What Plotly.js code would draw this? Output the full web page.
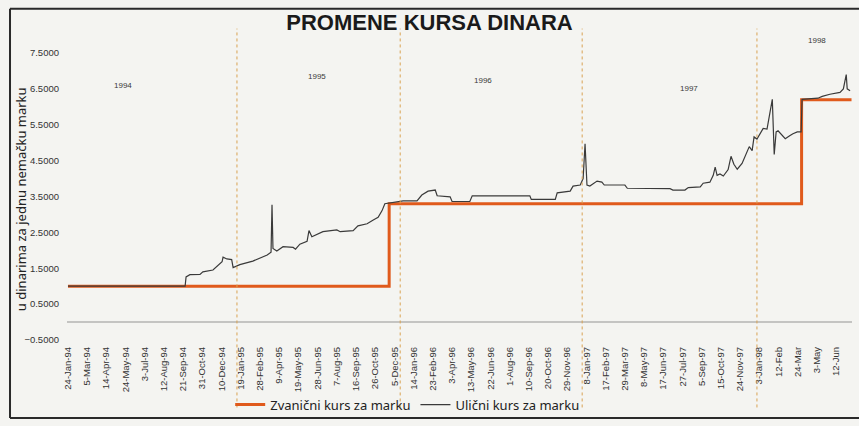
<!DOCTYPE html>
<html>
<head>
<meta charset="utf-8">
<script src="https://cdn.plot.ly/plotly-3.0.1.min.js"></script>
<style>
  html, body { margin: 0; padding: 0; background: #f4f4f1; }
  #chart { width: 859px; height: 426px; }
</style>
</head>
<body>
<div id="chart"></div>
<script>
// ---- Data ----
const officialDates = ["1994-01-24", "1995-11-24", "1998-04-01", "1998-07-14"];
const officialValues = [1.0, 3.3, 6.2, 6.2];

const streetDates = [
  "1994-01-24","1994-09-25","1994-09-27","1994-10-05","1994-10-26","1994-11-01","1994-11-22","1994-11-30",
  "1994-12-11","1994-12-13","1994-12-21","1994-12-31","1995-01-03","1995-01-17","1995-02-13","1995-03-15",
  "1995-03-23","1995-03-25","1995-03-27","1995-04-04","1995-04-17","1995-05-08","1995-05-13","1995-05-22",
  "1995-06-06","1995-06-10","1995-06-16","1995-07-09","1995-08-07","1995-08-14","1995-09-10","1995-09-20",
  "1995-10-09","1995-10-21","1995-11-01","1995-11-09","1995-11-15","1995-12-23","1996-01-21","1996-01-31",
  "1996-02-13","1996-02-28","1996-03-03","1996-03-30","1996-04-03","1996-05-10","1996-05-15","1996-09-12",
  "1996-09-15","1996-11-04","1996-11-08","1996-12-05","1996-12-11","1996-12-26","1997-01-01","1997-01-05",
  "1997-01-09","1997-01-15","1997-01-30","1997-02-09","1997-02-14","1997-03-29","1997-04-03","1997-07-01",
  "1997-07-07","1997-08-01","1997-08-08","1997-09-02","1997-09-08","1997-09-22","1997-09-29","1997-10-03",
  "1997-10-07","1997-10-13","1997-10-20","1997-10-30","1997-11-05","1997-11-11","1997-11-18","1997-11-28",
  "1997-12-09","1997-12-13","1997-12-19","1997-12-23","1997-12-29","1998-01-05","1998-01-11","1998-01-19",
  "1998-01-23","1998-01-30","1998-02-03","1998-02-07","1998-02-11","1998-02-20","1998-02-26","1998-03-08",
  "1998-03-14","1998-03-23","1998-03-31","1998-04-02","1998-05-05","1998-05-14","1998-05-30","1998-06-20",
  "1998-06-27","1998-07-03","1998-07-05","1998-07-11"
];
const streetValues = [
  1.00,1.00,1.26,1.32,1.33,1.40,1.45,1.54,
  1.68,1.81,1.76,1.74,1.52,1.60,1.70,1.87,
  1.95,3.27,2.05,1.98,2.10,2.08,2.03,2.17,
  2.25,2.55,2.38,2.52,2.57,2.52,2.55,2.68,
  2.74,2.84,2.92,3.10,3.30,3.38,3.38,3.54,
  3.65,3.68,3.52,3.49,3.36,3.36,3.52,3.52,
  3.42,3.42,3.60,3.65,3.79,3.82,4.00,4.97,
  3.82,3.79,3.93,3.90,3.82,3.82,3.73,3.72,
  3.68,3.68,3.75,3.77,3.87,3.90,4.09,4.32,
  4.09,4.13,4.07,4.25,4.62,4.40,4.26,4.42,
  4.78,4.89,4.78,5.16,5.10,5.28,5.40,5.38,
  5.71,6.21,4.67,5.30,5.33,5.19,5.11,5.20,
  5.25,5.30,5.30,6.21,6.24,6.29,6.35,6.40,
  6.50,6.90,6.50,6.45
];

const tickDates = [
  "1994-01-24","1994-03-05","1994-04-14","1994-05-24","1994-07-03","1994-08-12","1994-09-21","1994-10-31",
  "1994-12-10","1995-01-19","1995-02-28","1995-04-09","1995-05-19","1995-06-28","1995-08-07","1995-09-16",
  "1995-10-26","1995-12-05","1996-01-14","1996-02-23","1996-04-03","1996-05-13","1996-06-22","1996-08-01",
  "1996-09-10","1996-10-20","1996-11-29","1997-01-08","1997-02-17","1997-03-29","1997-05-08","1997-06-17",
  "1997-07-27","1997-09-05","1997-10-15","1997-11-24","1998-01-03","1998-02-12","1998-03-24","1998-05-03",
  "1998-06-12"
];
const tickLabels = [
  "24-Jan-94","5-Mar-94","14-Apr-94","24-May-94","3-Jul-94","12-Aug-94","21-Sep-94","31-Oct-94",
  "10-Dec-94","19-Jan-95","28-Feb-95","9-Apr-95","19-May-95","28-Jun-95","7-Aug-95","16-Sep-95",
  "26-Oct-95","5-Dec-95","14-Jan-96","23-Feb-96","3-Apr-96","13-May-96","22-Jun-96","1-Aug-96",
  "10-Sep-96","20-Oct-96","29-Nov-96","8-Jan-97","17-Feb-97","29-Mar-97","8-May-97","17-Jun-97",
  "27-Jul-97","5-Sep-97","15-Oct-97","24-Nov-97","3-Jan-98","12-Feb","24-Mar","3-May",
  "12-Jun"
];

const yearNames = ["1994", "1995", "1996", "1997", "1998"];
const yearBoundaries = ["1995-01-11", "1995-12-17", "1996-12-30", "1997-12-29"];

// ---- Layout helpers (positions only) ----
const yearLabelPos = [
  {x: "1994-05-19", y: 0.910},
  {x: "1995-06-27", y: 0.940},
  {x: "1996-06-07", y: 0.928},
  {x: "1997-08-10", y: 0.900},
  {x: "1998-05-03", y: 1.065}
];

const annotations = yearNames.map((t, i) => ({
  x: yearLabelPos[i].x, y: yearLabelPos[i].y, xref: "x", yref: "paper",
  text: t, showarrow: false,
  font: {family: "Liberation Sans, Arial, sans-serif", size: 8, color: "#3a3a3a"}
}));
// y-axis title placed as rotated text
annotations.push({
  x: -0.0585, y: 0.491, xref: "paper", yref: "paper",
  text: "u dinarima za jednu nemačku marku", showarrow: false, textangle: -90,
  xanchor: "center", yanchor: "middle",
  font: {family: "Noto Sans, Open Sans, sans-serif", size: 13, color: "#222"}
});

const shapes = yearBoundaries.map(d => ({
  type: "line", xref: "x", yref: "paper",
  x0: d, x1: d, y0: -0.235, y1: 1.085,
  line: {color: "#d9a252", width: 1, dash: "dot"}
}));
// magazine frame
shapes.push({type: "line", xref: "paper", yref: "paper", x0: -0.0726, x1: 1.01, y0: 1.1546, y1: 1.1546, line: {color: "#2a2a2a", width: 2}});
shapes.push({type: "line", xref: "paper", yref: "paper", x0: -0.0726, x1: -0.0726, y0: 1.1546, y1: -0.272, line: {color: "#2a2a2a", width: 2}});
shapes.push({type: "line", xref: "paper", yref: "paper", x0: -0.0726, x1: 1.01, y0: -0.272, y1: -0.272, line: {color: "#2a2a2a", width: 2}});

const traces = [
  {
    x: officialDates, y: officialValues, type: "scatter", mode: "lines",
    name: "Zvanični kurs za marku",
    line: {color: "#e05a1c", width: 3, shape: "hv"}
  },
  {
    x: streetDates, y: streetValues, type: "scatter", mode: "lines",
    name: "Ulični kurs za marku",
    line: {color: "#3a3a3a", width: 1.2}
  }
];

const layout = {
  width: 859, height: 426,
  margin: {l: 67, r: 7, t: 53, b: 82, pad: 0},
  paper_bgcolor: "#f4f4f1",
  plot_bgcolor: "#f4f4f1",
  title: {
    text: "PROMENE KURSA DINARA",
    x: 0.5, xref: "container", xanchor: "center",
    y: 0.948, yref: "container", yanchor: "middle",
    font: {family: "Liberation Sans, Arial, sans-serif", size: 22, color: "#1a1a1a", weight: "bold"}
  },
  xaxis: {
    type: "date",
    range: ["1994-01-22", "1998-07-15"],
    tickmode: "array", tickvals: tickDates, ticktext: tickLabels,
    tickangle: -90,
    tickfont: {family: "Liberation Sans, Arial, sans-serif", size: 9.5, color: "#333"},
    showgrid: false, zeroline: false, showline: false, ticks: "",
    ticklabelstandoff: 4
  },
  yaxis: {
    range: [-0.5, 7.5],
    tick0: -0.5, dtick: 1, tickformat: ".4f",
    tickfont: {family: "Liberation Sans, Arial, sans-serif", size: 9.5, color: "#333"},
    showgrid: false, zeroline: true, zerolinecolor: "#c4c4c2", zerolinewidth: 1.5,
    showline: false, ticks: "", ticklabelstandoff: 7
  },
  showlegend: true,
  legend: {
    orientation: "h", x: 0.434, xanchor: "center", y: -0.225, yanchor: "middle",
    font: {family: "Noto Sans, Open Sans, sans-serif", size: 13, color: "#222"},
    bgcolor: "rgba(0,0,0,0)", itemwidth: 30, traceorder: "normal"
  },
  annotations: annotations,
  shapes: shapes
};

Plotly.newPlot("chart", traces, layout, {displayModeBar: false, staticPlot: true});
</script>
</body>
</html>
